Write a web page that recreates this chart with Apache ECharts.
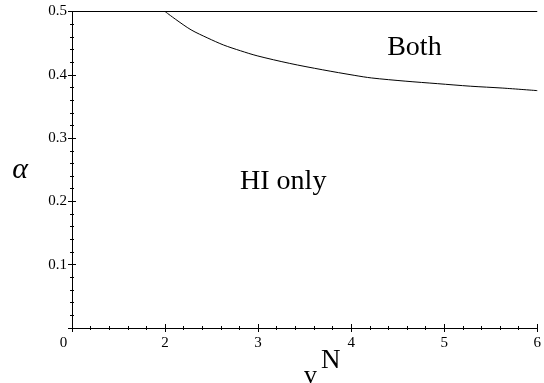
<!DOCTYPE html>
<html>
<head>
<meta charset="utf-8">
<script src="https://cdn.jsdelivr.net/npm/echarts@6/dist/echarts.min.js"></script>
<style>
  html, body { margin: 0; padding: 0; background: #fff; }
  #chart { width: 544px; height: 383px; }
</style>
</head>
<body>
<div id="chart"></div>
<script>
// boundary curve between the two regions
let vN = [2.0, 2.11, 2.28, 2.46, 2.63, 2.81, 2.99, 3.34, 3.69, 4.04, 4.22, 4.58, 4.93, 5.28, 5.63, 6.0];
let alpha = [0.5, 0.488, 0.471, 0.458, 0.447, 0.438, 0.430, 0.418, 0.408, 0.399, 0.395, 0.390, 0.386, 0.382, 0.379, 0.375];
// top edge of the plotted region
let topX = [1, 6];
let topY = [0.5, 0.5];
let xTicks = [1, 2, 3, 4, 5, 6];
let xTickLabels = ['0', '2', '3', '4', '5', '6'];
let yTickLabels = ['', '0.1', '0.2', '0.3', '0.4', '0.5'];
let regionNames = ['Both', 'HI only'];
let regionX = [4.68, 3.27];
let regionY = [0.443, 0.231];

let serif = '"Liberation Serif", "DejaVu Serif", serif';

let myChart = echarts.init(document.getElementById('chart'));

function xAxisBase(inside) {
    return {
        type: 'value',
        position: 'bottom',
        min: 1,
        max: 6,
        interval: 1,
        axisLine: { onZero: false, lineStyle: { color: '#000', width: 1 } },
        axisTick: { inside: inside, length: 4, lineStyle: { color: '#000' } },
        minorTick: { show: true, splitNumber: 5, length: 2, lineStyle: { color: '#000' } },
        splitLine: { show: false },
        minorSplitLine: { show: false },
        axisLabel: { show: false }
    };
}

function yAxisBase(inside) {
    return {
        type: 'value',
        position: 'left',
        min: 0,
        max: 0.5,
        interval: 0.1,
        axisLine: { onZero: false, lineStyle: { color: '#000', width: 1 } },
        axisTick: { inside: inside, length: 4, lineStyle: { color: '#000' } },
        minorTick: { show: true, splitNumber: 5, length: 2, lineStyle: { color: '#000' } },
        splitLine: { show: false },
        minorSplitLine: { show: false },
        axisLabel: { show: false }
    };
}

let xMain = xAxisBase(false);
xMain.axisLabel = {
    show: true,
    margin: 8,
    color: '#000',
    fontFamily: serif,
    fontSize: 15,
    formatter: function (v) {
        let i = xTicks.indexOf(Math.round(v));
        let s = i >= 0 ? xTickLabels[i] : '';
        return i === 0 ? '{o|' + s + '}' : s;
    },
    rich: { o: { fontFamily: serif, fontSize: 15, color: '#000', padding: [0, 17, 0, 0] } }
};
let yMain = yAxisBase(false);
yMain.axisLabel = {
    show: true,
    margin: 5,
    color: '#000',
    fontFamily: serif,
    fontSize: 15,
    formatter: function (v) {
        return yTickLabels[Math.round(v * 10)] || '';
    }
};
yMain.name = 'α';
yMain.nameLocation = 'middle';
yMain.nameRotate = 0;
yMain.nameGap = 44;
yMain.nameTextStyle = { fontFamily: serif, fontStyle: 'italic', fontSize: 30, color: '#000' };

let option = {
    animation: false,
    backgroundColor: '#fff',
    grid: { left: 72, right: -2, top: 11.5, bottom: 55, containLabel: false },
    xAxis: [xMain, xAxisBase(true)],
    yAxis: [yMain, yAxisBase(true)],
    graphic: [
        { type: 'text', left: 304, top: 363, style: { text: 'v', font: '26px ' + serif, fill: '#000' } },
        { type: 'text', left: 321, top: 347, style: { text: 'N', font: '27px ' + serif, fill: '#000' } }
    ],
    series: [
        {
            name: 'boundary',
            type: 'line',
            xAxisIndex: 0,
            yAxisIndex: 0,
            smooth: 0.3,
            symbol: 'none',
            lineStyle: { color: '#000', width: 1 },
            data: vN.map((x, i) => [x, alpha[i]])
        },
        {
            name: 'top',
            type: 'line',
            xAxisIndex: 0,
            yAxisIndex: 0,
            symbol: 'none',
            lineStyle: { color: '#000', width: 1 },
            data: topX.map((x, i) => [x, topY[i]])
        },
        {
            name: 'regions',
            type: 'scatter',
            xAxisIndex: 0,
            yAxisIndex: 0,
            symbolSize: 0,
            itemStyle: { opacity: 1, color: '#000' },
            label: {
                show: true,
                position: 'inside',
                color: '#000',
                fontFamily: serif,
                fontSize: 28,
                formatter: p => regionNames[p.dataIndex]
            },
            data: regionX.map((x, i) => [x, regionY[i]])
        }
    ]
};

myChart.setOption(option, true);
</script>
</body>
</html>
